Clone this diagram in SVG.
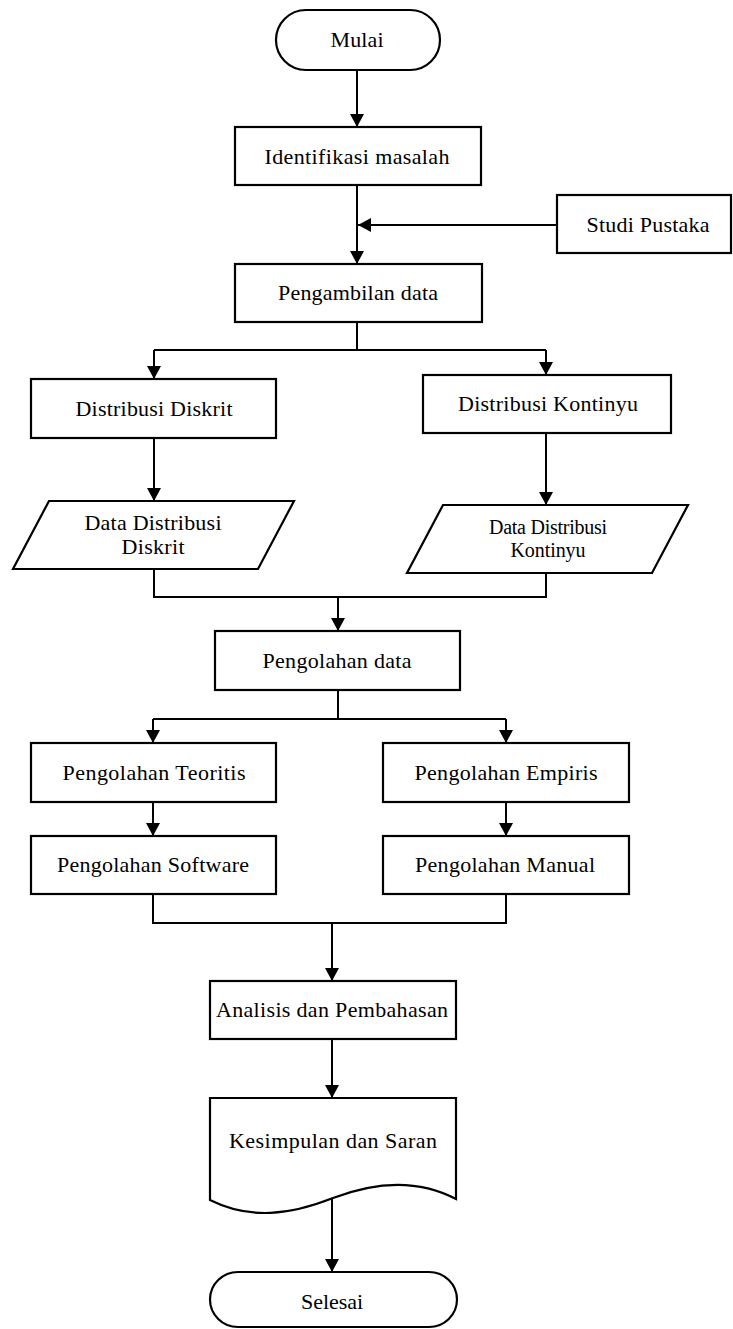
<svg xmlns="http://www.w3.org/2000/svg" width="733" height="1329" viewBox="0 0 733 1329">
<style>
.shape{fill:#fff;stroke:#000;stroke-width:2.2}
.conn{fill:none;stroke:#000;stroke-width:2}
text{font-family:"Liberation Serif","Times New Roman",serif;font-size:22px;fill:#000;text-anchor:middle}
.sm{font-size:20px}
</style>
<defs>
<marker id="arr" markerUnits="userSpaceOnUse" markerWidth="14" markerHeight="14" refX="13" refY="7" orient="auto">
<path d="M0,0 L13,7 L0,14 Z" fill="#000"/>
</marker>
</defs>
<rect width="733" height="1329" fill="#fff"/>
<g id="connectors">
<path class="conn" d="M357,70 V127" marker-end="url(#arr)"/>
<path class="conn" d="M357,185 V264" marker-end="url(#arr)"/>
<path class="conn" d="M557,225 H358" marker-end="url(#arr)"/>
<path class="conn" d="M357,322 V350 M154,350 H546"/>
<path class="conn" d="M154,350 V379" marker-end="url(#arr)"/>
<path class="conn" d="M546,350 V375" marker-end="url(#arr)"/>
<path class="conn" d="M154,438 V501" marker-end="url(#arr)"/>
<path class="conn" d="M546,433 V505" marker-end="url(#arr)"/>
<path class="conn" d="M154,569 V597 H546 V573"/>
<path class="conn" d="M338,597 V631" marker-end="url(#arr)"/>
<path class="conn" d="M338,690 V719 M153,719 H506"/>
<path class="conn" d="M153,719 V743" marker-end="url(#arr)"/>
<path class="conn" d="M506,719 V743" marker-end="url(#arr)"/>
<path class="conn" d="M153,802 V836" marker-end="url(#arr)"/>
<path class="conn" d="M506,802 V836" marker-end="url(#arr)"/>
<path class="conn" d="M153,894 V923 H506 V894"/>
<path class="conn" d="M332,923 V981" marker-end="url(#arr)"/>
<path class="conn" d="M332,1039 V1098" marker-end="url(#arr)"/>
<path class="conn" d="M332,1199 V1272" marker-end="url(#arr)"/>
</g>
<g id="mulai">
<rect class="shape" x="276" y="10" width="164" height="60" rx="30" ry="30"/>
<text x="357" y="47" textLength="53">Mulai</text>
</g>
<g id="identifikasi">
<rect class="shape" x="235" y="127" width="246" height="58"/>
<text x="357" y="164" textLength="185">Identifikasi masalah</text>
</g>
<g id="studi">
<rect class="shape" x="557" y="195" width="174" height="58"/>
<text x="648" y="232" textLength="123">Studi Pustaka</text>
</g>
<g id="pengambilan">
<rect class="shape" x="235" y="264" width="247" height="58"/>
<text x="358" y="300" textLength="160">Pengambilan data</text>
</g>
<g id="diskrit">
<rect class="shape" x="31" y="379" width="245" height="59"/>
<text x="154" y="416" textLength="157">Distribusi Diskrit</text>
</g>
<g id="kontinyu">
<rect class="shape" x="423" y="375" width="248" height="58"/>
<text x="548" y="411" textLength="180">Distribusi Kontinyu</text>
</g>
<g id="data-diskrit">
<polygon class="shape" points="49,501 294,501 258,569 13,569"/>
<text x="153" y="530" textLength="137">Data Distribusi</text>
<text x="153" y="554" textLength="63">Diskrit</text>
</g>
<g id="data-kontinyu">
<polygon class="shape" points="443,505 688,505 652,573 407,573"/>
<text class="sm" x="548" y="534" textLength="118">Data Distribusi</text>
<text class="sm" x="548" y="557" textLength="75">Kontinyu</text>
</g>
<g id="pengolahan">
<rect class="shape" x="215" y="631" width="245" height="59"/>
<text x="337" y="668" textLength="149">Pengolahan data</text>
</g>
<g id="teoritis">
<rect class="shape" x="31" y="743" width="245" height="59"/>
<text x="154" y="780" textLength="183">Pengolahan Teoritis</text>
</g>
<g id="empiris">
<rect class="shape" x="383" y="743" width="246" height="59"/>
<text x="506" y="780" textLength="183">Pengolahan Empiris</text>
</g>
<g id="software">
<rect class="shape" x="31" y="836" width="245" height="58"/>
<text x="153" y="872" textLength="192">Pengolahan Software</text>
</g>
<g id="manual">
<rect class="shape" x="383" y="836" width="246" height="58"/>
<text x="505" y="872" textLength="180">Pengolahan Manual</text>
</g>
<g id="analisis">
<rect class="shape" x="210" y="981" width="246" height="58"/>
<text x="332" y="1017" textLength="232">Analisis dan Pembahasan</text>
</g>
<g id="kesimpulan">
<path class="shape" d="M210,1098 H456 V1199 C420,1180 380,1180 333,1198 C290,1215 250,1220 210,1200 Z"/>
<text x="333" y="1148" textLength="208">Kesimpulan dan Saran</text>
</g>
<g id="selesai">
<rect class="shape" x="210" y="1272" width="247" height="55" rx="28" ry="27.5"/>
<text x="332" y="1309" textLength="62">Selesai</text>
</g>
</svg>
